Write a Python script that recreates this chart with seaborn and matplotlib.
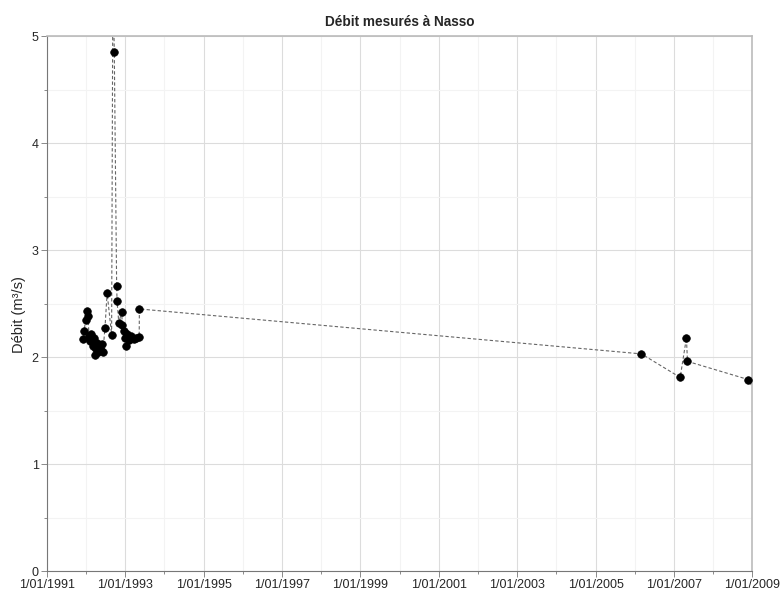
import matplotlib
matplotlib.use("Agg")
import matplotlib.pyplot as plt
import matplotlib.dates as mdates
import matplotlib.ticker as mticker
import pandas as pd
import seaborn as sns

# measurement dates (record order) and discharge values
dates = [
    "1991-12-03", "1991-12-14", "1991-12-27", "1992-01-08", "1992-01-18",
    "1992-01-29", "1992-02-08", "1992-02-19", "1992-03-01", "1992-03-12",
    "1992-03-22", "1992-04-02", "1992-04-12", "1992-04-23", "1992-05-04",
    "1992-05-15", "1992-05-26", "1992-06-06", "1992-06-25", "1992-07-15",
    "1992-08-26", "1992-09-07", "1992-09-20", "1992-10-12", "1992-10-16",
    "1992-11-01", "1992-11-27", "1992-12-05", "1992-12-15", "1992-12-28",
    "1993-01-08", "1993-01-20", "1993-02-05", "1993-02-25", "1993-03-20",
    "1993-04-15", "1993-05-10", "1993-05-12",
    "2006-03-05", "2007-03-01", "2007-04-28", "2007-05-08", "2008-11-25",
    "2009-06-01",
]
debit = [
    2.17, 2.24, 2.35, 2.43, 2.38,
    2.20, 2.15, 2.22, 2.10, 2.18,
    2.02, 2.08, 2.13, 2.05, 2.11,
    2.07, 2.12, 2.05, 2.27, 2.60,
    2.21, 5.60, 4.85, 2.66, 2.52,
    2.32, 2.42, 2.30, 2.24, 2.18,
    2.10, 2.22, 2.16, 2.20, 2.17,
    2.18, 2.19, 2.45,
    2.03, 1.81, 2.18, 1.96, 1.79,
    1.45,
]

# axis ticks: labelled every two years from 1991, minor every year
major_years = list(range(1991, 2010, 2))
minor_years = list(range(1991, 2010))

df = pd.DataFrame({"date": pd.to_datetime(dates), "debit": debit})

sns.set_style("white")
plt.rcParams["font.family"] = ["Liberation Sans", "DejaVu Sans"]

fig = plt.figure(figsize=(7.82, 5.93), dpi=100)
ax = fig.add_axes([0.060, 0.037, 0.902, 0.902])

sns.lineplot(data=df, x="date", y="debit", sort=False, ax=ax,
             color="#666666", linewidth=0.8, linestyle=(0, (3, 2)), zorder=2)
sns.scatterplot(data=df, x="date", y="debit", ax=ax, color="black",
                s=30, edgecolor="black", linewidth=0.5, zorder=3)

ax.set_xlim(pd.Timestamp("1991-01-01"), pd.Timestamp("2009-01-01"))
ax.set_ylim(0, 5)

major_pos = [mdates.date2num(pd.Timestamp(f"{y}-01-01")) for y in major_years]
minor_pos = [mdates.date2num(pd.Timestamp(f"{y}-01-01")) for y in minor_years]
ax.xaxis.set_major_locator(mticker.FixedLocator(major_pos))
ax.xaxis.set_minor_locator(mticker.FixedLocator(minor_pos))
ax.xaxis.set_major_formatter(mticker.FuncFormatter(
    lambda v, pos: (lambda d: f"{d.day}/{d.month:02d}/{d.year}")(mdates.num2date(v))))
ax.yaxis.set_major_locator(mticker.MultipleLocator(1))
ax.yaxis.set_minor_locator(mticker.MultipleLocator(0.5))

ax.grid(True, which="major", color="#dcdcdc", linewidth=0.8)
ax.grid(True, which="minor", color="#f3f3f3", linewidth=0.8)
ax.set_axisbelow(True)

for side in ["top", "right"]:
    ax.spines[side].set_color("#bbbbbb")
    ax.spines[side].set_linewidth(1.2)
for side in ["left", "bottom"]:
    ax.spines[side].set_color("#777777")
    ax.spines[side].set_linewidth(0.8)

ax.tick_params(which="major", direction="out", length=4, width=0.6,
               color="#777777", labelsize=9, pad=2, bottom=True, left=True)
ax.tick_params(which="minor", direction="out", length=2.5, width=0.6,
               color="#777777", bottom=True, left=True)

ax.set_xlabel("")
ax.set_ylabel("Débit (m³/s)", fontsize=10.5)
ax.yaxis.set_label_coords(-0.030, 0.48)
ax.set_title("Débit mesurés à Nasso", fontsize=9.8, fontweight="bold", pad=7)

fig.savefig("out.png", dpi=100)
